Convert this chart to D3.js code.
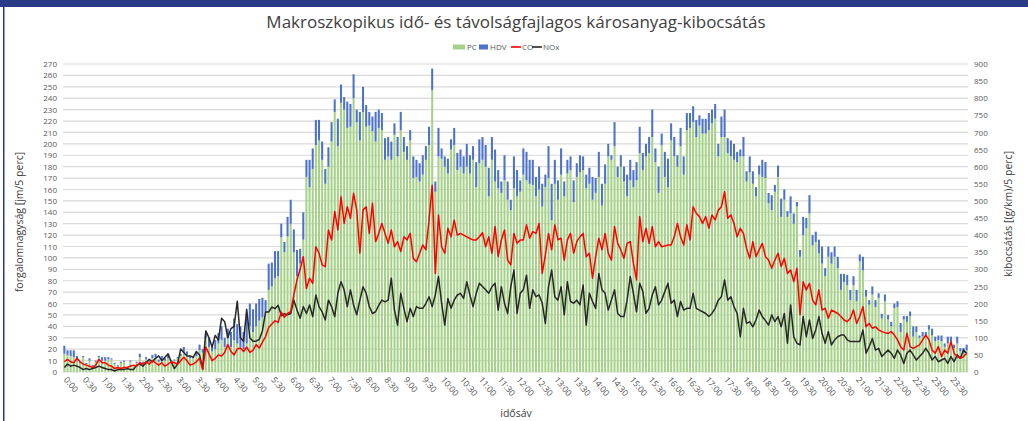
<!DOCTYPE html>
<html>
<head>
<meta charset="utf-8">
<script src="https://cdn.jsdelivr.net/npm/d3@7/dist/d3.min.js"></script>
<style>
body { margin: 0; background: #fff; }
text { font-family: "Open Sans", sans-serif; }
</style>
</head>
<body>
<svg id="chart" width="1028" height="421"></svg>
<script>
// 5 perces idősávok, 0:00 - 23:55
var slots = d3.range(288).map(function (i) {
    return Math.floor(i / 12) + ':' + d3.format('02')((i % 12) * 5);
});

var tickLabels = ['0:00', '0:30', '1:00', '1:30', '2:00', '2:30', '3:00', '3:30', '4:00', '4:30', '5:00', '5:30',
    '6:00', '6:30', '7:00', '7:30', '8:00', '8:30', '9:00', '9:30', '10:00', '10:30', '11:00', '11:30',
    '12:00', '12:30', '13:00', '13:30', '14:00', '14:30', '15:00', '15:30', '16:00', '16:30', '17:00', '17:30',
    '18:00', '18:30', '19:00', '19:30', '20:00', '20:30', '21:00', '21:30', '22:00', '22:30', '23:00', '23:30'];

var leftTicks = d3.range(0, 271, 10);
var rightTicks = d3.range(0, 901, 50);

// forgalom [jm/5 perc]
var pc = [16, 15, 14, 13, 10, 8, 13, 7, 10, 5, 9, 13,
    10, 10, 11, 11, 7, 5, 8, 9, 3, 9, 5, 8,
    13, 8, 11, 9, 12, 13, 9, 11, 10, 12, 9, 10,
    12, 14, 17, 15, 12, 12, 14, 19, 17, 30, 22, 18,
    20, 25, 28, 22, 30, 22, 28, 25, 22, 20, 25, 40,
    35, 40, 45, 48, 52, 72, 75, 82, 84, 118, 105,
    119, 130, 105, 84, 95, 116, 171, 162, 178, 199,
    203, 186, 165, 180, 202, 228, 198, 236, 230, 214,
    215, 240, 219, 203, 228, 215, 216, 211, 202, 214,
    212, 186, 189, 186, 208, 189, 212, 193, 186, 203,
    170, 171, 167, 173, 186, 199, 247, 158, 189, 187,
    180, 174, 195, 199, 177, 180, 174, 180, 174, 186,
    162, 183, 186, 180, 154, 186, 167, 161, 157, 168,
    151, 142, 161, 154,
    158, 173, 168, 165, 164, 154, 160, 145, 162, 170,
    133, 165, 151, 173, 154, 174, 177, 149, 171, 175,
    177, 161, 165, 151, 157, 171, 146, 165, 189, 186,
    198, 171, 180, 167, 154, 168, 162, 168, 192, 177,
    189, 192, 206, 184, 157, 199, 171, 162, 203, 189,
    180, 198, 173, 212, 214, 219, 206, 216, 209, 209,
    212, 218, 222, 189, 206, 206, 192, 189, 186, 184,
    189, 189, 167, 175, 165, 154, 173, 171, 170, 148,
    142, 158, 171, 136, 151, 136, 139, 130, 145, 101,
    120, 126, 139, 111, 114, 104, 95, 84, 101, 95,
    101, 91, 72, 79, 76, 63, 76, 62, 97, 89,
    66, 59, 68, 57, 65, 47, 62, 46, 40, 56,
    57, 35, 46, 44, 49, 31, 35, 30, 31, 31,
    37, 32, 27, 28, 27, 22, 25, 27, 21, 25,
    18, 16, 19];

var hdv = [7, 4, 5, 6, 4, 1, 1, 1, 2, 1, 1, 1,
    3, 3, 2, 1, 1, 1, 1, 1, 1, 1, 1, 1,
    3, 1, 2, 1, 3, 3, 2, 3, 2, 3, 1, 1,
    1, 2, 5, 3, 2, 1, 3, 5, 3, 3, 8, 4,
    8, 9, 12, 8, 8, 13, 19, 17, 18, 15, 23, 20,
    20, 20, 19, 17, 11, 23, 21, 24, 22, 12, 9,
    17, 21, 20, 23, 13, 24, 15, 24, 18, 22,
    18, 16, 13, 17, 17, 11, 24, 16, 11, 23,
    20, 21, 11, 25, 22, 19, 12, 13, 26, 16,
    15, 19, 17, 16, 10, 17, 16, 13, 12, 9,
    19, 15, 16, 17, 12, 16, 19, 9, 25, 9,
    9, 13, 9, 15, 15, 15, 15, 20, 16, 12,
    22, 21, 20, 19, 25, 20, 28, 16, 10, 22,
    16, 9, 28, 23,
    10, 23, 25, 21, 22, 17, 20, 20, 11, 28,
    32, 21, 17, 23, 13, 12, 12, 19, 12, 15,
    12, 12, 14, 20, 13, 22, 19, 17, 11, 4,
    21, 9, 10, 13, 19, 18, 15, 16, 23, 15,
    11, 14, 24, 12, 23, 10, 22, 25, 15, 17,
    10, 16, 16, 15, 13, 14, 15, 9, 13, 13,
    15, 12, 13, 11, 18, 24, 13, 14, 14, 9,
    6, 17, 9, 14, 11, 8, 8, 15, 14, 9,
    13, 6, 10, 16, 9, 5, 15, 9, 4, 6,
    16, 9, 16, 9, 9, 12, 15, 7, 9, 10,
    9, 10, 14, 7, 9, 9, 8, 10, 6, 12,
    6, 4, 7, 6, 4, 4, 6, 4, 4, 4,
    5, 8, 3, 5, 4, 9, 5, 2, 4, 4,
    4, 6, 4, 4, 5, 3, 6, 4, 3, 6,
    3, 5, 5];

// kibocsátás [(g/km)/5 perc]
var co = [30, 37, 30, 27, 40, 30, 23, 20, 17, 13, 20, 37,
    27, 27, 20, 17, 10, 13, 10, 13, 13, 17, 20, 17,
    27, 23, 30, 23, 33, 27, 20, 27, 17, 23, 30, 27,
    23, 33, 43, 33, 20, 23, 30, 40, 7, 73, 53, 33,
    40, 50, 47, 57, 80, 60, 50, 67, 70, 60, 73, 57,
    63, 80, 70, 87, 103, 130, 140, 150, 145, 175, 160,
    171, 176, 225, 269, 300, 337, 244, 274, 259, 366,
    347, 313, 308, 415, 386, 469, 415, 512, 434, 483,
    449, 522, 473, 347, 473, 483, 405, 493, 381, 405,
    434, 405, 376, 415, 366, 381, 352, 395, 386, 405,
    332, 322, 347, 371, 357, 444, 546, 288, 459, 366,
    347, 420, 395, 444, 400, 405, 400, 395, 390, 386,
    386, 395, 407, 366, 395, 347, 425, 337, 386, 415,
    327, 313, 405, 376,
    386, 386, 430, 391, 410, 405, 434, 288, 342, 405,
    357, 430, 386, 391, 327, 386, 405, 347, 381, 395,
    405, 337, 347, 274, 337, 391, 357, 405, 347, 327,
    425, 376, 357, 332, 376, 381, 318, 269, 454, 381,
    420, 376, 425, 366, 381, 366, 368, 371, 371, 395,
    434, 395, 371, 430, 386, 483, 464, 454, 434, 454,
    420, 459, 444, 473, 483, 527, 449, 459, 434, 395,
    420, 405, 361, 332, 381, 337, 357, 376, 337, 327,
    303, 327, 347, 308, 332, 288, 298, 264, 303, 167,
    264, 240, 259, 210, 196, 240, 181, 186, 157, 181,
    176, 171, 162, 152, 147, 157, 181, 142, 162, 191,
    132, 142, 128, 132, 123, 118, 115, 113, 118, 108,
    94, 74, 64, 113, 74, 69, 74, 79, 94, 108,
    94, 64, 55, 74, 45, 64, 55, 89, 55, 45,
    40, 45, 55];

var nox = [13, 23, 17, 20, 17, 13, 7, 10, 7, 10, 13, 17,
    13, 10, 7, 7, 3, 7, 7, 7, 10, 7, 7, 20,
    23, 17, 27, 37, 30, 40, 47, 33, 43, 53, 30, 10,
    23, 67, 57, 47, 47, 43, 60, 50, 10, 120, 100, 73,
    107, 93, 157, 147, 100, 127, 133, 207, 100, 90, 183, 100,
    90, 90, 95, 120, 175, 175, 190, 185, 195, 165, 170,
    167, 171, 210, 181, 157, 191, 171, 196, 162, 225,
    191, 176, 152, 210, 191, 162, 230, 264, 240, 191,
    240, 196, 167, 210, 249, 230, 191, 171, 176, 195,
    210, 205, 210, 274, 181, 137, 230, 186, 147, 186,
    162, 191, 186, 186, 200, 220, 191, 225, 279, 201,
    137, 215, 186, 210, 225, 230, 215, 264, 225, 191,
    230, 259, 250, 240, 230, 249, 259, 181, 249, 201,
    171, 249, 298, 171,
    230, 240, 283, 186, 240, 220, 225, 201, 142, 249,
    298, 220, 210, 249, 167, 264, 206, 201, 210, 196,
    254, 137, 230, 206, 186, 288, 240, 230, 181, 210,
    240, 171, 162, 162, 210, 279, 230, 176, 259, 235,
    171, 186, 225, 249, 196, 210, 235, 259, 201, 210,
    162, 206, 181, 186, 186, 230, 186, 181, 176, 171,
    162, 171, 186, 210, 220, 269, 210, 220, 191, 171,
    103, 186, 142, 147, 132, 152, 181, 162, 150, 137,
    167, 147, 162, 132, 171, 84, 196, 103, 84, 79,
    162, 103, 152, 98, 123, 162, 113, 84, 118, 79,
    94, 103, 108, 108, 94, 89, 89, 89, 89, 123,
    55, 74, 98, 64, 69, 45, 55, 64, 55, 40,
    64, 50, 25, 55, 64, 50, 35, 45, 55, 69,
    55, 35, 45, 30, 35, 40, 25, 45, 30, 50,
    40, 64, 55];

var svg = d3.select('#chart');
var plotLeft = 63, plotRight = 968, plotTop = 64, plotBottom = 372;

// keret
svg.append('rect').attr('x', 0).attr('y', 0).attr('width', 1028).attr('height', 7).attr('fill', '#2b3a87');
svg.append('rect').attr('x', 3).attr('y', 0).attr('width', 1.5).attr('height', 421).attr('fill', '#2b3a87');

var x = d3.scaleBand().domain(slots).range([plotLeft, plotRight]).paddingInner(0.35).paddingOuter(0.1);
var yL = d3.scaleLinear().domain([0, 270]).range([plotBottom, plotTop]);
var yR = d3.scaleLinear().domain([0, 900]).range([plotBottom, plotTop]);

// rácsvonalak
svg.append('g').selectAll('line').data(leftTicks).enter().append('line')
    .attr('x1', plotLeft).attr('x2', plotRight)
    .attr('y1', function (d) { return yL(d); }).attr('y2', function (d) { return yL(d); })
    .attr('stroke', '#d9d9d9').attr('stroke-width', 1.2);

// oszlopok
var rows = slots.map(function (s, i) { return { slot: s, pc: pc[i], hdv: hdv[i] }; });
var stack = d3.stack().keys(['pc', 'hdv'])(rows);
var colors = { pc: '#a6d189', hdv: '#4d72c8' };

svg.append('g').selectAll('g').data(stack).enter().append('g')
    .attr('fill', function (d) { return colors[d.key]; })
    .selectAll('rect').data(function (d) { return d; }).enter().append('rect')
    .attr('x', function (d) { return x(d.data.slot); })
    .attr('width', x.bandwidth())
    .attr('y', function (d) { return yL(d[1]); })
    .attr('height', function (d) { return yL(d[0]) - yL(d[1]); });

// vonalak
var line = d3.line()
    .x(function (d, i) { return x(slots[i]) + x.bandwidth() / 2; })
    .y(function (d) { return yR(d); });

svg.append('path').datum(nox).attr('d', line).attr('fill', 'none')
    .attr('stroke', '#262626').attr('stroke-width', 1.5).attr('stroke-linejoin', 'round');
svg.append('path').datum(co).attr('d', line).attr('fill', 'none')
    .attr('stroke', '#ff0000').attr('stroke-width', 1.5).attr('stroke-linejoin', 'round');

// tengelyek
var axL = svg.append('g').attr('transform', 'translate(' + (plotLeft - 6) + ',0)')
    .call(d3.axisLeft(yL).tickValues(leftTicks).tickSize(0).tickPadding(0));
axL.select('.domain').remove();
axL.selectAll('text').attr('font-size', 8).attr('fill', '#595959').attr('font-family', '"Open Sans", sans-serif');

var axR = svg.append('g').attr('transform', 'translate(' + (plotRight + 6) + ',0)')
    .call(d3.axisRight(yR).tickValues(rightTicks).tickSize(0).tickPadding(0));
axR.select('.domain').remove();
axR.selectAll('text').attr('font-size', 8).attr('fill', '#595959').attr('font-family', '"Open Sans", sans-serif');

svg.append('g').selectAll('text').data(tickLabels).enter().append('text')
    .attr('transform', function (d) {
        return 'translate(' + (x(d) + x.bandwidth() / 2 - 1) + ',' + (plotBottom + 8) + ') rotate(50)';
    })
    .attr('font-size', 8.5).attr('fill', '#4d4d4d')
    .text(function (d) { return d; });

// feliratok
svg.append('text').attr('x', 516).attr('y', 28).attr('text-anchor', 'middle')
    .attr('font-size', 17).attr('fill', '#404040')
    .text('Makroszkopikus idő- és távolságfajlagos károsanyag-kibocsátás');

svg.append('text').attr('transform', 'translate(23,222) rotate(-90)').attr('text-anchor', 'middle')
    .attr('font-size', 10.5).attr('fill', '#404040').text('forgalomnagyság [jm/5 perc]');

svg.append('text').attr('transform', 'translate(1012,214) rotate(-90)').attr('text-anchor', 'middle')
    .attr('font-size', 10.5).attr('fill', '#404040').text('kibocsátás [(g/km)/5 perc]');

svg.append('text').attr('x', 516).attr('y', 417).attr('text-anchor', 'middle')
    .attr('font-size', 10.5).attr('fill', '#404040').text('idősáv');

// jelmagyarázat
var legend = [
    { name: 'PC', type: 'rect', color: colors.pc, x: 453 },
    { name: 'HDV', type: 'rect', color: colors.hdv, x: 479 },
    { name: 'CO', type: 'line', color: '#ff0000', x: 511 },
    { name: 'NOx', type: 'line', color: '#262626', x: 532 }
];
var lg = svg.append('g').selectAll('g').data(legend).enter().append('g')
    .attr('transform', function (d) { return 'translate(' + d.x + ',47)'; });
lg.filter(function (d) { return d.type === 'rect'; }).append('rect')
    .attr('x', 0).attr('y', -2.5).attr('width', function (d) { return d.name === 'PC' ? 12 : 9; }).attr('height', 5)
    .attr('fill', function (d) { return d.color; });
lg.filter(function (d) { return d.type === 'line'; }).append('line')
    .attr('x1', 0).attr('x2', 10).attr('y1', 0).attr('y2', 0)
    .attr('stroke', function (d) { return d.color; }).attr('stroke-width', 1.6);
lg.append('text').attr('x', function (d) { return d.name === 'PC' ? 14 : 11; }).attr('y', 3)
    .attr('font-size', 8).attr('fill', '#595959')
    .text(function (d) { return d.name; });
</script>
</body>
</html>
